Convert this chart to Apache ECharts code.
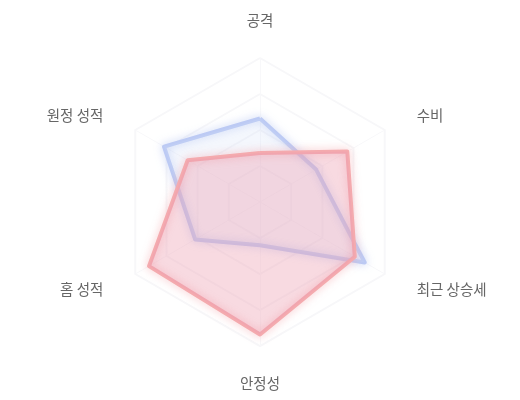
<!DOCTYPE html>
<html>
<head>
<meta charset="utf-8">
<script src="https://cdn.jsdelivr.net/npm/echarts@6/dist/echarts.min.js"></script>
<style>
  html, body { margin: 0; padding: 0; background: #fff; }
  #main { width: 520px; height: 400px; }
</style>
</head>
<body>
<div id="main"></div>
<script>
// 축 이름 (위에서부터 시계 방향)
var indicators = ['공격', '수비', '최근 상승세', '안정성', '홈 성적', '원정 성적'];
var maxValue = 100;

// 두 팀 값 (indicators 순서)
var seriesNames = ['팀 A', '팀 B'];
var teamA = [58, 45, 84, 30, 52, 77];
var teamB = [34, 70, 76, 92, 89, 58];

// echarts 레이더는 반시계 방향으로 그리므로 첫 축 뒤 순서를 뒤집는다
function clockwise(arr) {
    return [arr[0]].concat(arr.slice(1).reverse());
}

var myChart = echarts.init(document.getElementById('main'));

var option = {
    radar: {
        center: ['50%', '50.5%'],
        radius: '72%',
        shape: 'polygon',
        splitNumber: 4,
        nameGap: 30,
        axisName: {
            color: '#666',
            fontSize: 14.5,
            fontFamily: '"Noto Sans CJK KR", sans-serif',
            padding: [0, 6]
        },
        indicator: clockwise(indicators).map(function (n) {
            return { name: n, max: maxValue };
        }),
        splitArea: { show: false },
        splitLine: { lineStyle: { color: '#f7f7f9', width: 2 } },
        axisLine: { lineStyle: { color: '#f8f8fa' } }
    },
    series: [{
        type: 'radar',
        symbol: 'none',
        data: [{
            name: seriesNames[0],
            value: clockwise(teamA),
            lineStyle: { color: '#bccaf4', width: 4, shadowBlur: 8, shadowColor: 'rgba(170,188,240,0.7)' },
            areaStyle: { color: 'rgba(205,216,246,0.3)' }
        }]
    }, {
        type: 'radar',
        symbol: 'none',
        data: [{
            name: seriesNames[1],
            value: clockwise(teamB),
            lineStyle: { color: '#f4aaae', width: 4, shadowBlur: 8, shadowColor: 'rgba(242,160,165,0.7)' },
            areaStyle: { color: 'rgba(236,160,176,0.55)' }
        }]
    }]
};

myChart.setOption(option);
</script>
</body>
</html>
